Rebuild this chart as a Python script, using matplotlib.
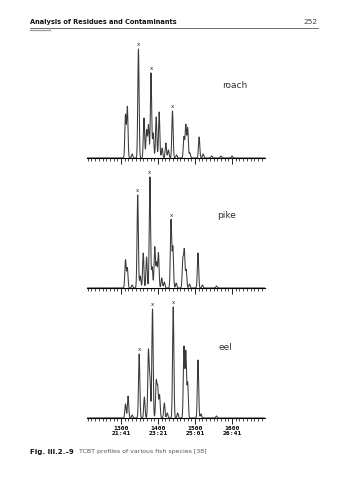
import numpy as np
import matplotlib.pyplot as plt

# retention index positions (peak centre) and peak heights
roach_pos = [1312, 1317, 1330, 1347, 1362, 1369, 1374, 1381, 1387, 1395, 1403, 1411,
             1421, 1428, 1439, 1450, 1470, 1475, 1480, 1486, 1511, 1522, 1545, 1570, 1600]
roach_h = [43, 51, 4, 109, 40, 28, 33, 85, 25, 41, 46, 10,
           15, 8, 47, 3, 21, 33, 30, 5, 21, 4, 2, 2, 2]

pike_pos = [1312, 1317, 1330, 1345, 1352, 1360, 1369, 1378, 1384, 1391, 1396, 1401,
            1410, 1417, 1435, 1440, 1449, 1467, 1471, 1476, 1485, 1508, 1520, 1558]
pike_h = [28, 20, 3, 93, 12, 35, 31, 111, 21, 41, 25, 35,
          10, 6, 68, 41, 5, 28, 37, 18, 4, 35, 3, 2]

eel_pos = [1312, 1319, 1330, 1349, 1363, 1374, 1378, 1385, 1395, 1399, 1404, 1417,
           1425, 1441, 1453, 1470, 1475, 1480, 1508, 1516, 1558]
eel_h = [14, 22, 3, 64, 21, 66, 38, 109, 36, 30, 23, 15,
         5, 111, 5, 71, 66, 35, 58, 4, 2]

marked = {"roach": [1347, 1381, 1439], "pike": [1345, 1378, 1435], "eel": [1349, 1385, 1441]}

tick_vals = [1300, 1400, 1500, 1600]
tick_labels = ["1300\n21:41", "1400\n23:21", "1500\n25:01", "1600\n26:41"]

W, H = 337, 480
fig = plt.figure(figsize=(W / 100, H / 100), dpi=100)

# page header
fig.text(30 / W, 1 - 22 / H, "Analysis of Residues and Contaminants", fontsize=4.8,
         fontweight="bold", ha="left", va="center", color="#111")
fig.text(318 / W, 1 - 22 / H, "252", fontsize=5.3, ha="right", va="center", color="#444")
fig.add_artist(plt.Line2D([30 / W, 318 / W], [1 - 28 / H, 1 - 28 / H], color="#333", lw=0.5))
fig.add_artist(plt.Line2D([30 / W, 50 / W], [1 - 29.5 / H, 1 - 29.5 / H], color="#999", lw=0.9))

x = np.arange(1208, 1689, 0.25)
panels = [("roach", roach_pos, roach_h, 158, 86, 235),
          ("pike", pike_pos, pike_h, 288, 216, 227),
          ("eel", eel_pos, eel_h, 418, 347, 225)]

for name, pos, hts, base_px, lab_py, lab_px in panels:
    ax = fig.add_axes([87 / W, 1 - (base_px + 6) / H, 178 / W, 124 / H])
    y = np.zeros_like(x)
    for p, h in zip(pos, hts):
        y += h * np.exp(-0.5 * ((x - p) / 1.75) ** 2)
    ax.plot(x, y, color="#3a3a3a", lw=0.75)
    for m in marked[name]:
        ax.text(m, hts[pos.index(m)] + 2, "x", fontsize=4, ha="center", va="bottom",
                color="#222")
    ax.set_xlim(1208, 1689)
    ax.set_ylim(-6, 118)
    for s in ["top", "left", "right"]:
        ax.spines[s].set_visible(False)
    ax.spines["bottom"].set_position(("data", 0))
    ax.spines["bottom"].set_linewidth(0.8)
    ax.set_yticks([])
    ax.set_xticks(tick_vals)
    ax.set_xticks(np.arange(1210, 1690, 10), minor=True)
    ax.tick_params(axis="x", which="major", direction="out", length=4, width=0.6)
    ax.tick_params(axis="x", which="minor", direction="out", length=2.2, width=0.5)
    if name == "eel":
        ax.set_xticklabels(tick_labels, fontsize=4.6, family="DejaVu Sans Mono",
                           fontweight="bold", linespacing=0.95)
        ax.tick_params(axis="x", pad=2)
    else:
        ax.set_xticklabels([])
    ax.patch.set_alpha(0)
    fig.text(lab_px / W, 1 - lab_py / H, name, fontsize=6.5, ha="center", va="center",
             color="#333")

fig.text(30 / W, 1 - 452 / H, "Fig. III.2.\u20139", fontsize=5, fontweight="bold",
         ha="left", va="center", color="#111")
fig.text(79 / W, 1 - 452 / H, "TCBT profiles of various fish species [38]", fontsize=4.5,
         ha="left", va="center", color="#555")

fig.savefig("out.png", dpi=100)
